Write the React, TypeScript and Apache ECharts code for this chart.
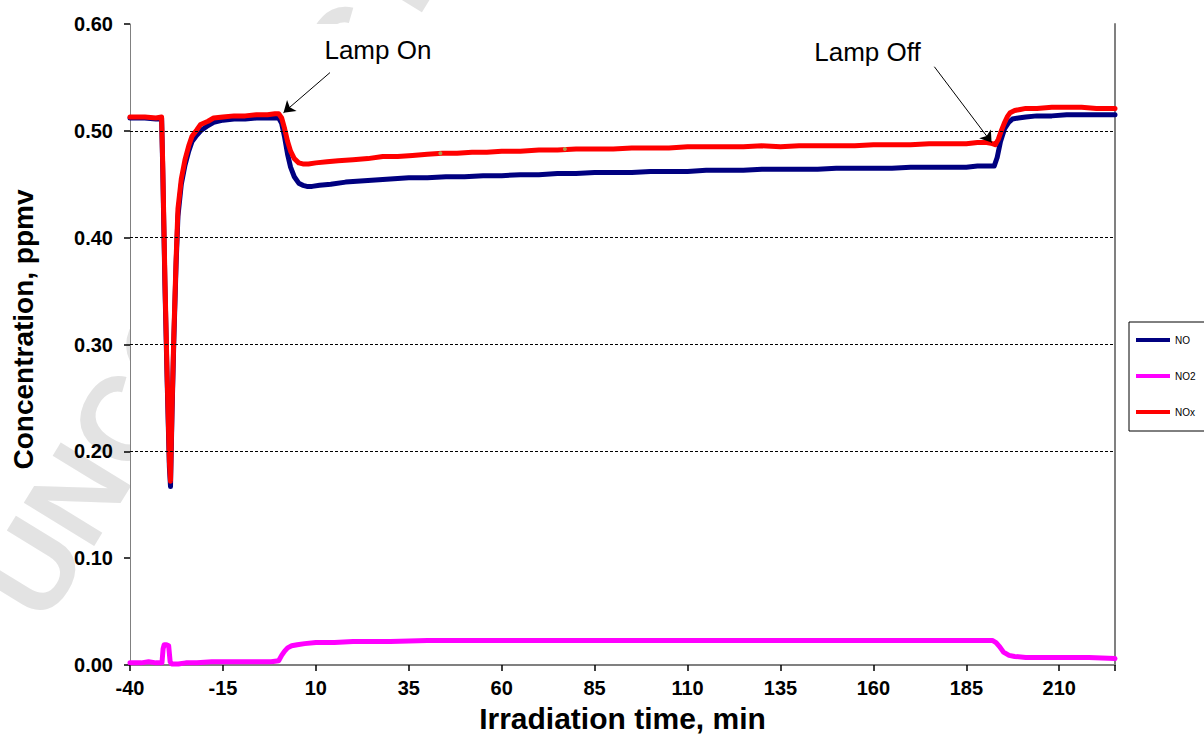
import React, { useEffect, useRef } from 'react';
import * as echarts from 'echarts';

// Irradiation time (min) and concentration (ppmv) pairs
const noData: [number, number][] = [
  [-40, 0.512], [-36, 0.512], [-33, 0.511], [-31.5, 0.512], [-31.2, 0.465], [-30.6, 0.355],
  [-30, 0.265], [-29.4, 0.185], [-29.1, 0.167], [-28.7, 0.235], [-28.2, 0.305], [-27.6, 0.375],
  [-27.1, 0.42], [-26.2, 0.45], [-25.2, 0.468], [-24.2, 0.481], [-23.3, 0.49], [-22, 0.496],
  [-21, 0.5], [-19, 0.505], [-17.5, 0.508], [-15, 0.51], [-12, 0.511], [-9, 0.511], [-6, 0.512],
  [-3, 0.512], [-1, 0.512], [0, 0.512], [0.8, 0.507], [1.6, 0.494], [2.4, 0.478], [3.2, 0.466],
  [4.2, 0.457], [5.4, 0.451], [6.5, 0.449], [7.6, 0.448], [9, 0.448], [11, 0.449], [14, 0.45],
  [18, 0.452], [22, 0.453], [26, 0.454], [30, 0.455], [35, 0.456], [40, 0.456], [45, 0.457],
  [50, 0.457], [55, 0.458], [60, 0.458], [65, 0.459], [70, 0.459], [75, 0.46], [80, 0.46],
  [85, 0.461], [90, 0.461], [95, 0.461], [100, 0.462], [105, 0.462], [110, 0.462], [115, 0.463],
  [120, 0.463], [125, 0.463], [130, 0.464], [135, 0.464], [140, 0.464], [145, 0.464], [150, 0.465],
  [155, 0.465], [160, 0.465], [165, 0.465], [170, 0.466], [175, 0.466], [180, 0.466], [185, 0.466],
  [188, 0.467], [191, 0.467], [192.5, 0.467], [193.3, 0.475], [194.2, 0.49], [195.3, 0.502],
  [196.4, 0.508], [197.4, 0.511], [199, 0.512], [201, 0.513], [204, 0.514], [208, 0.514],
  [212, 0.515], [216, 0.515], [220, 0.515], [225, 0.515]
];

const no2Data: [number, number][] = [
  [-40, 0.002], [-37, 0.002], [-35, 0.003], [-33, 0.002], [-31.4, 0.002], [-31.1, 0.015],
  [-30.8, 0.019], [-30.2, 0.019], [-29.6, 0.018], [-29.2, 0.003], [-28.8, 0.001], [-27, 0.001],
  [-25, 0.002], [-22, 0.002], [-18, 0.003], [-14, 0.003], [-10, 0.003], [-6, 0.003], [-2, 0.003],
  [0, 0.004], [0.8, 0.009], [1.6, 0.013], [2.4, 0.016], [3.5, 0.018], [5, 0.019], [7, 0.02],
  [10, 0.021], [15, 0.021], [20, 0.022], [30, 0.022], [40, 0.023], [60, 0.023], [80, 0.023],
  [100, 0.023], [120, 0.023], [140, 0.023], [160, 0.023], [180, 0.023], [192, 0.023], [193, 0.021],
  [194, 0.017], [195, 0.012], [196.5, 0.009], [198, 0.008], [201, 0.007], [206, 0.007],
  [212, 0.007], [218, 0.007], [225, 0.006]
];

const noxData: [number, number][] = [
  [-40, 0.513], [-36, 0.513], [-33, 0.512], [-31.5, 0.513], [-31.2, 0.47], [-30.6, 0.36],
  [-30, 0.27], [-29.4, 0.19], [-29.1, 0.172], [-28.7, 0.24], [-28.2, 0.31], [-27.6, 0.38],
  [-27.1, 0.427], [-26.2, 0.455], [-25.2, 0.473], [-24.2, 0.486], [-23.3, 0.495], [-22, 0.501],
  [-21, 0.506], [-19, 0.509], [-17.5, 0.512], [-15, 0.513], [-12, 0.514], [-9, 0.514], [-6, 0.515],
  [-3, 0.515], [-1, 0.516], [0, 0.516], [0.8, 0.512], [1.6, 0.502], [2.4, 0.49], [3.2, 0.481],
  [4.2, 0.474], [5.4, 0.47], [6.5, 0.469], [8, 0.469], [10, 0.47], [13, 0.471], [16, 0.472],
  [20, 0.473], [24, 0.474], [28, 0.476], [32, 0.476], [36, 0.477], [40, 0.478], [44, 0.479],
  [48, 0.479], [52, 0.48], [56, 0.48], [60, 0.481], [65, 0.481], [70, 0.482], [75, 0.482],
  [80, 0.483], [85, 0.483], [90, 0.483], [95, 0.484], [100, 0.484], [105, 0.484], [110, 0.485],
  [115, 0.485], [120, 0.485], [125, 0.485], [130, 0.486], [135, 0.485], [140, 0.486], [145, 0.486],
  [150, 0.486], [155, 0.486], [160, 0.487], [165, 0.487], [170, 0.487], [175, 0.488], [180, 0.488],
  [185, 0.488], [188, 0.489], [190.5, 0.489], [192, 0.488], [192.8, 0.487], [193.6, 0.492],
  [194.4, 0.5], [195.2, 0.507], [196, 0.513], [196.8, 0.517], [198, 0.519], [199.5, 0.52],
  [201, 0.521], [204, 0.521], [208, 0.522], [212, 0.522], [216, 0.522], [220, 0.521], [225, 0.521]
];

// two small green marks sitting on the NOx trace
const greenMarks: [number, number][] = [[43.5, 0.479], [77, 0.483]];

const seriesNames = ['NO', 'NO2', 'NOx'];
const seriesColors = ['#000080', '#FF00FF', '#FF0000'];
const gridValues = [0.2, 0.3, 0.4, 0.5];

const annotations: { label: string; text: [number, number]; from: [number, number]; to: [number, number] }[] = [
  { label: 'Lamp On', text: [26.7, 0.576], from: [13.8, 0.5545], to: [1.3, 0.517] },
  { label: 'Lamp Off', text: [158.4, 0.574], from: [176.4, 0.56], to: [191.8, 0.489] }
];

const X_MIN = -40;
const X_MAX = 225;
const X_STEP = 25;
const Y_MAX = 0.6;
const Y_STEP = 0.1;

const FONT = '"Liberation Sans", Arial, sans-serif';

export default function App() {
  const ref = useRef<HTMLDivElement>(null);

  useEffect(() => {
    if (!ref.current) return;
    const chart = echarts.init(ref.current, undefined, { renderer: 'svg' });
    const dataSets = [noData, no2Data, noxData];

    const option: any = {
      animation: false,
      backgroundColor: '#ffffff',
      grid: { left: 130, right: 89, top: 24, bottom: 70, containLabel: false },
      graphic: [
        {
          type: 'text',
          x: 60,
          y: 636,
          rotation: 1.02,
          z: -10,
          silent: true,
          style: {
            text: 'UNCORRECTED PROOF',
            fill: '#e3e3e3',
            fontSize: 120,
            fontWeight: 'bold',
            fontFamily: FONT,
            verticalAlign: 'bottom',
            align: 'left'
          }
        },
        {
          type: 'rect',
          z: -5,
          silent: true,
          shape: { x: 130, y: 24, width: 985, height: 644 },
          style: { fill: '#ffffff' }
        }
      ],
      legend: {
        data: seriesNames,
        orient: 'vertical',
        left: 1129,
        top: 322,
        borderColor: '#000',
        borderWidth: 1,
        padding: [12, 40, 13, 7],
        itemWidth: 34,
        itemHeight: 4,
        itemGap: 24,
        icon: 'rect',
        textStyle: { fontSize: 10, color: '#000', fontFamily: FONT, lineHeight: 12 }
      },
      xAxis: {
        type: 'value',
        min: X_MIN,
        max: X_MAX,
        interval: X_STEP,
        name: 'Irradiation time, min',
        nameLocation: 'middle',
        nameGap: 38,
        nameTextStyle: { fontSize: 30, fontWeight: 'bold', color: '#000', fontFamily: FONT },
        axisLine: { show: true, onZero: false, lineStyle: { color: '#808080', width: 2 } },
        axisTick: { show: true, inside: false, length: 6, lineStyle: { color: '#000', width: 1.5 } },
        axisLabel: {
          margin: 13,
          fontSize: 20,
          fontWeight: 'bold',
          color: '#000',
          fontFamily: FONT,
          formatter: (v: number) => (v > 210 ? '' : String(v))
        },
        splitLine: { show: false }
      },
      yAxis: [
        {
          type: 'value',
          min: 0,
          max: Y_MAX,
          interval: Y_STEP,
          name: 'Concentration, ppmv',
          nameLocation: 'middle',
          nameGap: 93,
          nameTextStyle: {
            fontSize: 28,
            fontWeight: 'bold',
            color: '#000',
            fontFamily: FONT,
            padding: [0, 0, 0, 30]
          },
          axisLine: { show: true, onZero: false, lineStyle: { color: '#808080', width: 1 } },
          axisTick: { show: true, inside: false, length: 6, lineStyle: { color: '#000', width: 1.5 } },
          axisLabel: {
            margin: 17,
            fontSize: 20,
            fontWeight: 'bold',
            color: '#000',
            fontFamily: FONT,
            formatter: (v: number) => v.toFixed(2)
          },
          splitLine: { show: false }
        },
        {
          type: 'value',
          min: 0,
          max: Y_MAX,
          interval: Y_STEP,
          position: 'right',
          axisLine: { show: true, onZero: false, lineStyle: { color: '#808080', width: 2 } },
          axisTick: { show: false },
          axisLabel: { show: false },
          splitLine: { show: false }
        }
      ],
      series: [
        {
          name: 'gridlines',
          type: 'line',
          data: [],
          z: 1,
          silent: true,
          markLine: {
            silent: true,
            symbol: 'none',
            label: { show: false },
            lineStyle: { color: '#000', width: 1, type: [3, 2] },
            data: gridValues.map((v) => ({ yAxis: v }))
          }
        },
        ...seriesNames.map((name, i) => ({
          name,
          type: 'line',
          data: dataSets[i],
          showSymbol: false,
          symbol: 'none',
          z: 2 + i,
          color: seriesColors[i],
          lineStyle: { color: seriesColors[i], width: 5, join: 'round', cap: 'round' },
          itemStyle: { color: seriesColors[i] }
        })),
        {
          name: 'marks',
          type: 'scatter',
          data: greenMarks,
          z: 6,
          silent: true,
          symbol: 'circle',
          symbolSize: 4,
          itemStyle: { color: '#9bbb59' }
        },
        {
          name: 'annotations',
          type: 'line',
          data: [],
          z: 10,
          silent: true,
          markLine: {
            silent: true,
            symbolSize: 11,
            label: { show: false },
            lineStyle: { color: '#000', width: 1, type: 'solid' },
            data: annotations.map((a) => [
              { coord: a.from, symbol: 'none' },
              { coord: a.to, symbol: 'arrow' }
            ])
          },
          markPoint: {
            silent: true,
            symbol: 'circle',
            symbolSize: 0,
            label: {
              show: true,
              position: 'inside',
              color: '#000',
              fontSize: 26,
              fontFamily: FONT,
              formatter: (p: any) => p.name
            },
            data: annotations.map((a) => ({ name: a.label, coord: a.text }))
          }
        }
      ]
    };

    chart.setOption(option);
    return () => chart.dispose();
  }, []);

  return <div ref={ref} style={{ width: 1204, height: 738, position: 'absolute', left: 0, top: 0 }} />;
}
